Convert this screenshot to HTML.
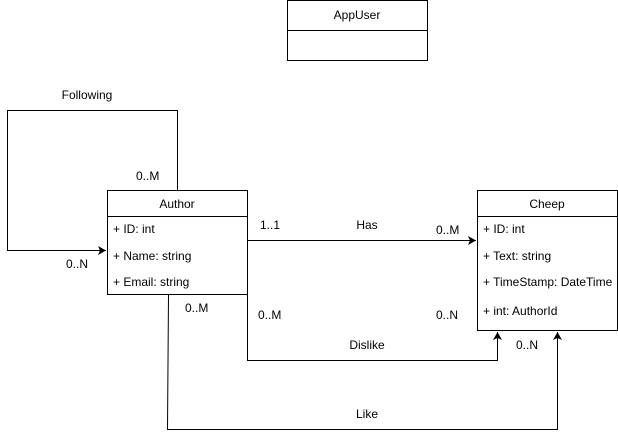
<!DOCTYPE html>
<html><head><meta charset="utf-8"><style>
html,body{margin:0;padding:0;background:#fff;}
svg{display:block;}
text{font-family:"Liberation Sans",Arial,sans-serif;font-size:12px;fill:#000;}
</style></head><body>
<svg width="618" height="439" viewBox="0 0 618 439" xmlns="http://www.w3.org/2000/svg">
<defs>
<marker id="a" markerWidth="10" markerHeight="10" refX="8" refY="5" orient="auto" markerUnits="userSpaceOnUse">
<path d="M0,0.5 L8,5 L0,9.5 L2,5 Z" fill="#000"/>
</marker>
</defs>
<g fill="none" stroke="#000" stroke-width="1">
<!-- AppUser -->
<rect x="287.5" y="0.5" width="140" height="60" fill="#fff"/>
<line x1="287.5" y1="30.5" x2="427.5" y2="30.5"/>
<!-- Author -->
<rect x="107.5" y="190.5" width="140" height="104" fill="#fff"/>
<line x1="107.5" y1="216.5" x2="247.5" y2="216.5"/>
<!-- Cheep -->
<rect x="477.5" y="190.5" width="140" height="140" fill="#fff"/>
<line x1="477.5" y1="216.5" x2="617.5" y2="216.5"/>
<!-- Following -->
<path d="M177.5,190.5 V110.5 H7.5 V250.5 H106" marker-end="url(#a)"/>
<!-- Has -->
<path d="M247.5,240.5 H476" marker-end="url(#a)"/>
<!-- Dislike -->
<path d="M247.5,294.5 V360.5 H497.5 V332" marker-end="url(#a)"/>
<!-- Like -->
<path d="M168.5,294.5 L167.5,429.5 H557.5 V332" marker-end="url(#a)"/>
</g>
<text x="357" y="19" text-anchor="middle">AppUser</text>
<text x="177" y="208" text-anchor="middle">Author</text>
<text x="113" y="233">+ ID: int</text>
<text x="113" y="260">+ Name: string</text>
<text x="113" y="286">+ Email: string</text>
<text x="547" y="208" text-anchor="middle">Cheep</text>
<text x="483" y="233">+ ID: int</text>
<text x="483" y="260">+ Text: string</text>
<text x="483" y="286">+ TimeStamp: DateTime</text>
<text x="483" y="315">+ int: AuthorId</text>
<text x="87" y="99" text-anchor="middle">Following</text>
<text x="136" y="180">0..M</text>
<text x="66" y="268">0..N</text>
<text x="260" y="229">1..1</text>
<text x="367" y="229" text-anchor="middle">Has</text>
<text x="436" y="234">0..M</text>
<text x="185" y="312">0..M</text>
<text x="258" y="319">0..M</text>
<text x="436" y="319">0..N</text>
<text x="367" y="349" text-anchor="middle">Dislike</text>
<text x="516" y="349">0..N</text>
<text x="367" y="418" text-anchor="middle">Like</text>
</svg>
</body></html>
